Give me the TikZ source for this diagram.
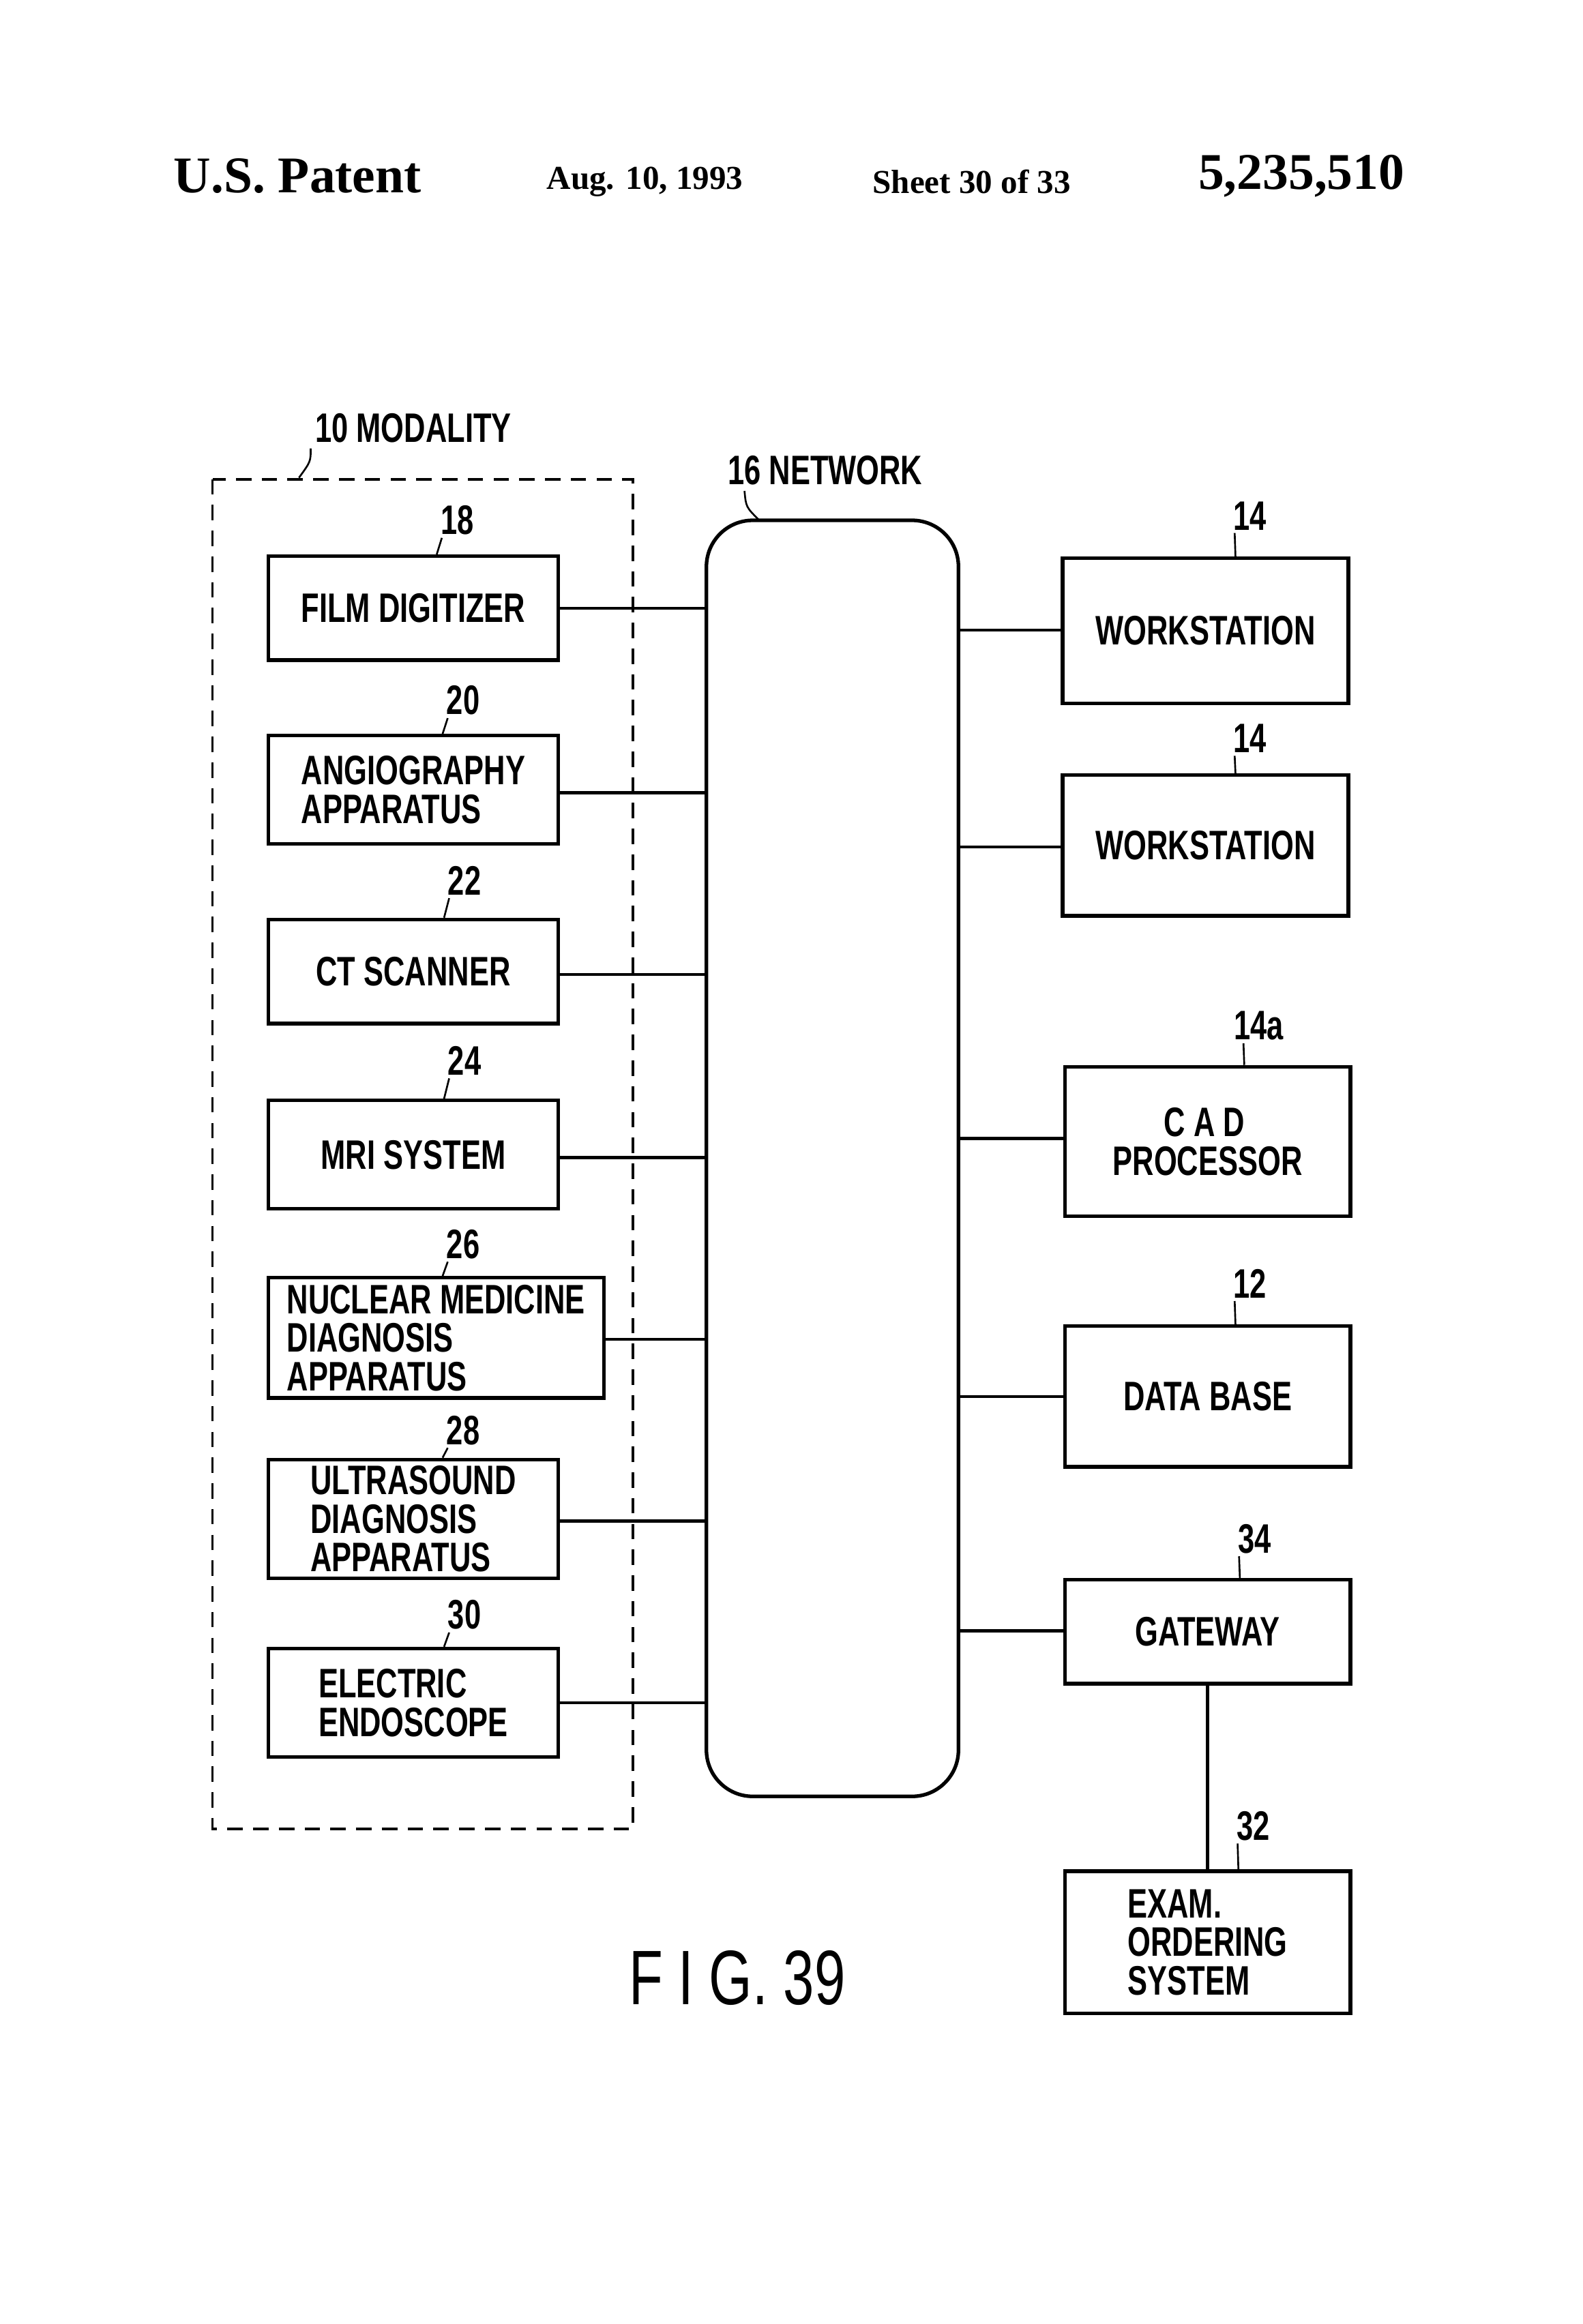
\documentclass[tikz,border=0pt]{standalone}
\usepackage{fontspec}
\setmainfont{Liberation Sans}[FakeStretch=0.72]
\newfontfamily\hdrfont{Liberation Serif}
\usetikzlibrary{positioning}
\tikzset{
  blk/.style={draw,line width=1.4pt,minimum height=#1,inner sep=0pt,align=left,font=\bfseries\fontsize{16}{15}\selectfont},
  lbl/.style={font=\bfseries\fontsize{16}{16}\selectfont,inner sep=1pt},
  link/.style={line width=1.2pt},
  lead/.style={line width=0.7pt}
}
\begin{document}
\begin{tikzpicture}[x=0.02cm,y=-0.02cm]
    \useasboundingbox (0,0) rectangle (1080,1586);
    % header
    \node[font=\hdrfont\bfseries\fontsize{20}{20}\selectfont] (hpat) at (203,120) {U.S. Patent};
    \node[font=\hdrfont\bfseries\fontsize{13}{13}\selectfont] (hdate) at (440,124) {Aug. 10, 1993};
    \node[font=\hdrfont\bfseries\fontsize{13}{13}\selectfont] (hsheet) at (663,124) {Sheet 30 of 33};
    \node[font=\hdrfont\bfseries\fontsize{20}{20}\selectfont] (hnum) at (888,120) {5,235,510};

    % modality group and network bus
    \draw[line width=1pt,dash pattern=on 6pt off 4pt] (145,327) rectangle (432,1248);
    \node[lbl] (modl) at (282,292) {10 MODALITY};
    \draw[lead] (212,306) .. controls (212,315) .. (204,326);
    \node[draw,line width=1.4pt,rounded corners=18pt,minimum width=3.44cm,minimum height=17.42cm] (net) at (568,790.5) {};
    \node[lbl] (netl) at (563,321) {16 NETWORK};
    \draw[lead] (508,335) .. controls (509,346) .. (518,355);

    % modality devices
    \node[blk=1.42cm,minimum width=3.96cm] (film) at (282,415) {\hspace*{0.4cm}FILM DIGITIZER\hspace*{0.4cm}};
    \node[blk=1.48cm,minimum width=3.96cm] (angio) at (282,539) {ANGIOGRAPHY\\APPARATUS};
    \node[blk=1.42cm,minimum width=3.96cm] (ct) at (282,663) {CT SCANNER};
    \node[blk=1.48cm,minimum width=3.96cm] (mri) at (282,788) {MRI SYSTEM};
    \node[blk=1.64cm,minimum width=4.58cm] (nucl) at (297.5,913) {NUCLEAR MEDICINE\\DIAGNOSIS\\APPARATUS};
    \node[blk=1.62cm,minimum width=3.96cm] (ultra) at (282,1036.5) {ULTRASOUND\\DIAGNOSIS\\APPARATUS};
    \node[blk=1.48cm,minimum width=3.96cm] (endo) at (282,1162) {ELECTRIC\\ENDOSCOPE};

    \node[lbl] (n18) at (312,355) {18};
    \node[lbl] (n20) at (316,478) {20};
    \node[lbl] (n22) at (317,601) {22};
    \node[lbl] (n24) at (317,724) {24};
    \node[lbl] (n26) at (316,849) {26};
    \node[lbl] (n28) at (316,976) {28};
    \node[lbl] (n30) at (317,1102) {30};
    \foreach \n/\b in {n18/film,n20/angio,n22/ct,n24/mri,n26/nucl,n28/ultra,n30/endo}
      \draw[lead] ([xshift=-6pt]\n.south) .. controls +(0,0.12) .. ([xshift=-0.28cm]\n.south |- \b.north);

    \foreach \b/\y in {film/415,angio/541,ct/665,mri/790,nucl/914,ultra/1038,endo/1162}
      \draw[link] (\b.east |- 0,\y) -- (net.west |- 0,\y);

    % right side stations
    \node[blk=1.98cm,minimum width=3.9cm] (ws1) at (822.5,430.5) {WORKSTATION};
    \node[blk=1.92cm,minimum width=3.9cm] (ws2) at (822.5,577) {WORKSTATION};
    \node[blk=2.04cm,minimum width=3.9cm] (cad) at (824,779) {\hspace*{0.7cm}C A D\\PROCESSOR};
    \node[blk=1.92cm,minimum width=3.9cm] (db) at (824,953) {DATA BASE};
    \node[blk=1.42cm,minimum width=3.9cm] (gate) at (824,1113.5) {GATEWAY};
    \node[blk=1.94cm,minimum width=3.9cm] (exam) at (824,1325.5) {EXAM.\\ORDERING\\SYSTEM};

    \node[lbl] (n14a) at (853,352) {14};
    \node[lbl] (n14b) at (853,504) {14};
    \node[lbl] (n14c) at (859,700) {14a};
    \node[lbl] (n12) at (853,876) {12};
    \node[lbl] (n34) at (856,1050) {34};
    \node[lbl] (n32) at (855,1246) {32};
    \foreach \n/\b in {n14a/ws1,n14b/ws2,n14c/cad,n12/db,n34/gate,n32/exam}
      \draw[lead] ([xshift=-6pt]\n.south) .. controls +(0,0.12) .. ([xshift=-0.2cm]\n.south |- \b.north);

    \foreach \b/\y in {ws1/430,ws2/578,cad/777,db/953,gate/1113}
      \draw[link] (net.east |- 0,\y) -- (\b.west |- 0,\y);
    \draw[link] (gate) -- (exam);

    \node[font=\fontsize{30}{30}\selectfont] (fig) at (503,1350) {F I G. 39};
\end{tikzpicture}
\end{document}
